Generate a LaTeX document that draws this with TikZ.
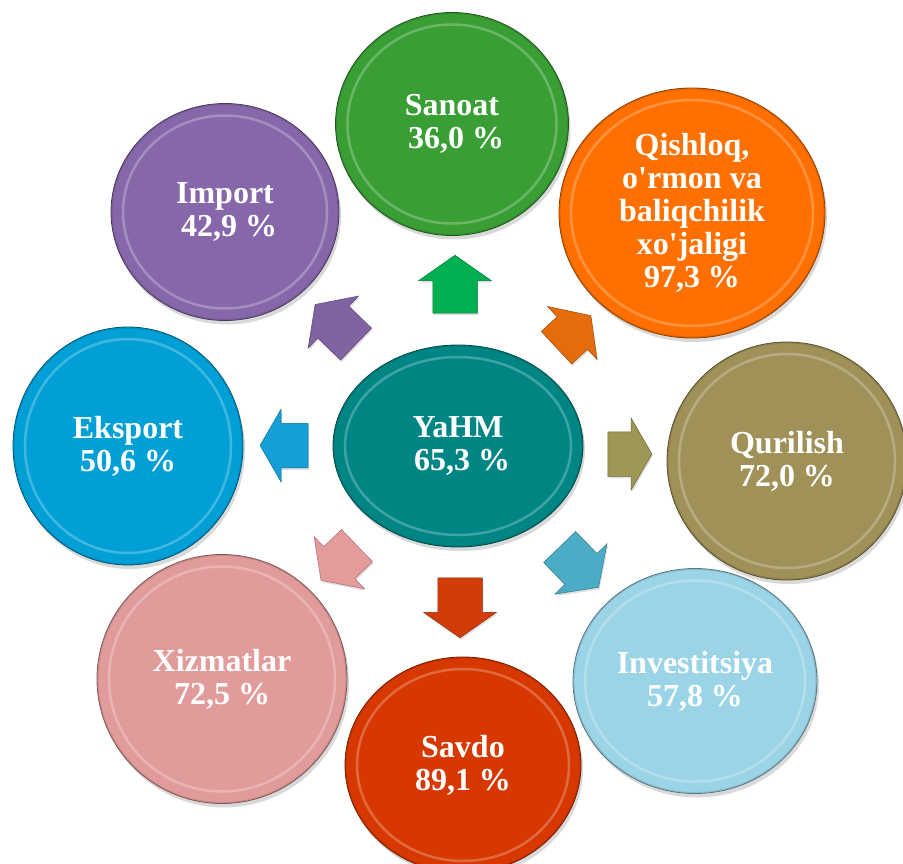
\documentclass[tikz,border=0pt]{standalone}
\usepackage{fontspec}
\setmainfont{Liberation Serif}
\usetikzlibrary{shapes.geometric,shapes.arrows,shadows,calc}
\definecolor{cSan}{RGB}{57,158,52}
\definecolor{cQis}{RGB}{255,112,0}
\definecolor{cQur}{RGB}{159,145,88}
\definecolor{cInv}{RGB}{155,212,230}
\definecolor{cSav}{RGB}{215,56,0}
\definecolor{cXiz}{RGB}{226,155,155}
\definecolor{cEks}{RGB}{0,160,214}
\definecolor{cImp}{RGB}{134,104,170}
\definecolor{cYah}{RGB}{0,133,133}
\definecolor{aSan}{RGB}{0,176,80}
\definecolor{aQis}{RGB}{228,108,10}
\definecolor{aQur}{RGB}{157,150,84}
\definecolor{aInv}{RGB}{75,172,198}
\definecolor{aSav}{RGB}{210,60,10}
\definecolor{aXiz}{RGB}{230,155,155}
\definecolor{aEks}{RGB}{20,160,215}
\definecolor{aImp}{RGB}{128,100,162}
\newcommand{\sq}{\textquotesingle}
\tikzset{
  bub/.style={ellipse, inner sep=0pt, fill=#1, draw=#1!55!black, line width=0.8pt,
    text=white, font=\bfseries\fontsize{32}{33}\selectfont, align=center,
    drop shadow={opacity=0.3, shadow xshift=2pt, shadow yshift=-4pt},
    path picture={
      \draw[white, opacity=0.25, line width=2.5pt]
        let \p1=(path picture bounding box.south west),
            \p2=(path picture bounding box.north east) in
        (path picture bounding box.center) ellipse [x radius={(\x2-\x1)/2-12pt}, y radius={(\y2-\y1)/2-12pt}];
      \draw[#1!80!black, opacity=0.5, line width=1.2pt]
        let \p1=(path picture bounding box.south west),
            \p2=(path picture bounding box.north east) in
        (path picture bounding box.center) ellipse [x radius={(\x2-\x1)/2-1pt}, y radius={(\y2-\y1)/2-1pt}];
    }},
  blk/.style={single arrow, fill=#1, draw=#1!70!black, line width=0.5pt,
    inner xsep=0pt, inner ysep=22pt, single arrow head extend=14pt,
    single arrow tip angle=110,
    drop shadow={opacity=0.25, shadow xshift=1pt, shadow yshift=-2pt}},
}
\begin{document}
\begin{tikzpicture}[x=1pt, y=-1pt]
\useasboundingbox (0,0) rectangle (903,864);
\clip (0,0) rectangle (903,864);
% outer circles
\node[bub=cSan, minimum width=233pt, minimum height=223pt] (san) at (452,124) {Sanoat\\\hspace*{8pt}36,0 \%};
\node[bub=cQis, minimum width=266pt, minimum height=250pt] (qis) at (692,213) {Qishloq,\\o\sq rmon va\\baliqchilik\\xo\sq jaligi\\97,3 \%};
\node[bub=cQur, minimum width=240pt, minimum height=238pt] (qur) at (787,461) {Qurilish\\72,0 \%};
\node[bub=cInv, minimum width=244pt, minimum height=225pt] (inv) at (695,681) {Investitsiya\\57,8 \%};
\node[bub=cSav, minimum width=236pt, minimum height=216pt] (sav) at (463,765) {Savdo\\89,1 \%};
\node[bub=cXiz, minimum width=250pt, minimum height=249pt] (xiz) at (222,679) {Xizmatlar\\72,5 \%};
\node[bub=cEks, minimum width=230pt, minimum height=238pt] (eks) at (128,446) {Eksport\\50,6 \%};
\node[bub=cImp, minimum width=228pt, minimum height=217pt] (imp) at (225,212) {Import\\\hspace*{8pt}42,9 \%};
% centre
\node[bub=cYah, minimum width=250pt, minimum height=202pt] (yah) at (458,446) {YaHM\\\hspace*{8pt}65,3 \%};
% block arrows
\node[blk=aSan, minimum height=58pt, rotate=90] (asan) at (455,292) {};
\node[blk=aQis, minimum height=47pt, rotate=43] (aqis) at (568,337) {};
\node[blk=aQur, minimum height=44pt, rotate=0, single arrow tip angle=120] (aqur) at (623.5,454) {};
\node[blk=aInv, minimum height=56pt, rotate=-46] (ainv) at (573.7,561.5) {};
\node[blk=aSav, minimum height=60pt, rotate=-90] (asav) at (460,600) {};
\node[blk=aXiz, minimum height=50pt, rotate=-136] (axiz) at (344.6,557.5) {};
\node[blk=aEks, minimum height=48pt, rotate=180, single arrow tip angle=120] (aeks) at (290.5,445.5) {};
\node[blk=aImp, minimum height=57pt, rotate=136] (aimp) at (341.2,329.7) {};
\end{tikzpicture}
\end{document}
